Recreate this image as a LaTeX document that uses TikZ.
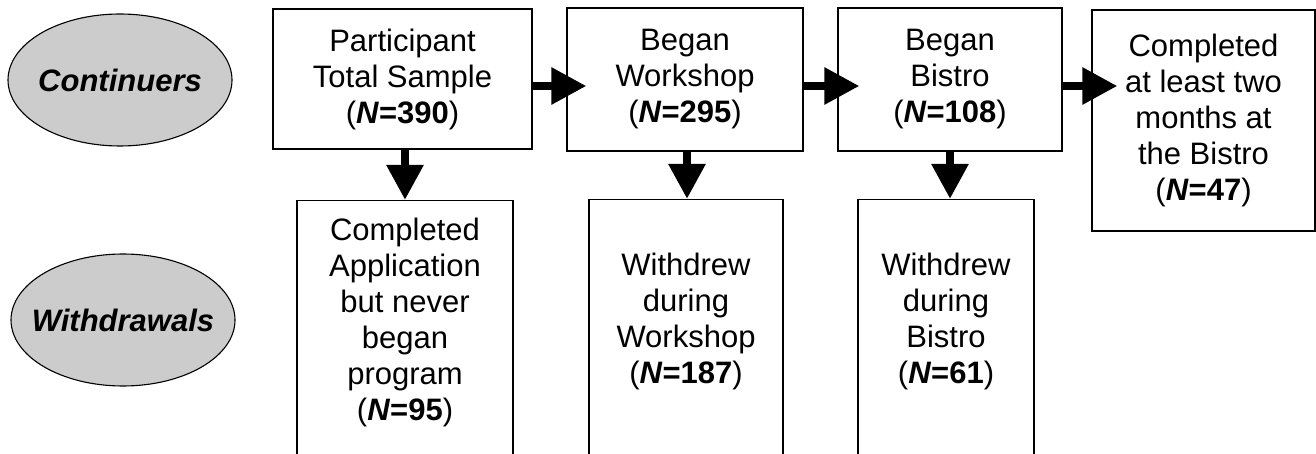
\documentclass[tikz,border=0pt]{standalone}
\usepackage{fontspec}
\setmainfont{Liberation Sans}
\usetikzlibrary{arrows.meta,shapes.geometric}
\newcommand{\nval}[1]{(\textbf{\textit{N}=#1})}

\begin{document}
\begin{tikzpicture}[x=1pt,y=-1pt,
	box/.style={draw,line width=1.1pt,inner sep=0pt},
	txt/.style={align=center,font=\fontsize{31}{36}\selectfont},
	oval/.style={ellipse,draw,line width=1.1pt,fill=gray!40,inner xsep=-30pt,inner ysep=0pt,
		minimum width=224pt,minimum height=132pt,font=\fontsize{31}{36}\selectfont\bfseries\itshape},
	fat/.style={line width=8.5pt,-{Triangle[width=35pt,length=35pt]}}]
					\useasboundingbox (0,0) rectangle (1316,454);
					\clip (0,0) rectangle (1316,454);
					%ROW LABELS
					\node[oval] (cont) at (120,80) {Continuers};
					\node[oval] (withdr) at (123,320) {Withdrawals};
					%CONTINUERS
					\node[box,txt,minimum width=259pt,minimum height=140pt] (total) at (402.5,79) {Participant\\Total Sample\\\nval{390}};
					\node[box,txt,minimum width=236pt,minimum height=143pt] (workshop) at (685,79.5) {Began\\Workshop\\\nval{295}};
					\node[box,txt,minimum width=224pt,minimum height=143pt] (bistro) at (950,79.5) {Began\\Bistro\\\nval{108}};
					\node[box,txt,minimum width=223pt,minimum height=221pt] (twomonths) at (1203.5,120.5) {Completed\\at least two\\months at\\the Bistro\\\nval{47}};
					%WITHDRAWALS
					\node[box,anchor=north,minimum width=216pt,minimum height=300pt] (neverbegan) at (405,200) {};
					\node[box,anchor=north,minimum width=194pt,minimum height=300pt] (wdworkshop) at (686,199) {};
					\node[box,anchor=north,minimum width=176pt,minimum height=300pt] (wdbistro) at (946,199) {};
					\node[txt] (neverbegantxt) at (405,322) {Completed\\Application\\but never\\began\\program\\\nval{95}};
					\node[txt] (wdworkshoptxt) at (686,321) {Withdrew\\during\\Workshop\\\nval{187}};
					\node[txt] (wdbistrotxt) at (946,321) {Withdrew\\during\\Bistro\\\nval{61}};
					%ARROWS
					\coordinate (b1out) at ([yshift=-7pt]total.east);
					\coordinate (b2out) at ([yshift=-6.5pt]workshop.east);
					\coordinate (b3out) at ([yshift=-6.5pt]bistro.east);
					\draw[fat] (b1out) -- ([xshift=20pt]workshop.west |- b1out);
					\draw[fat] (b2out) -- ([xshift=22pt]bistro.west |- b2out);
					\draw[fat] (b3out) -- ([xshift=26pt]twomonths.west |- b3out);
					\draw[fat] (neverbegan.north |- total.south) -- (neverbegan.north);
					\draw[fat] ([xshift=2pt]workshop.south) -- ([xshift=2pt]workshop.south |- wdworkshop.north);
					\draw[fat] (bistro.south) -- (bistro.south |- wdbistro.north);
	  \end{tikzpicture}
\end{document}
